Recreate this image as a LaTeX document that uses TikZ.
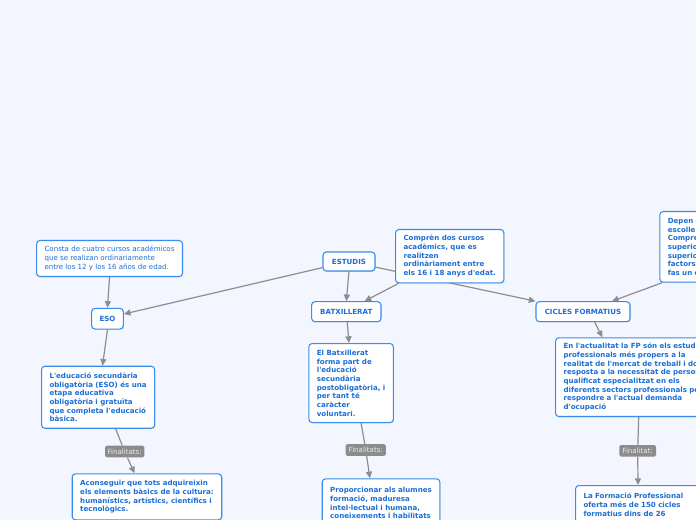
\documentclass[tikz,border=0pt]{standalone}
\usepackage{fontspec}
\setmainfont{DejaVu Sans}[Ligatures=TeXOff]
\usetikzlibrary{arrows.meta,shadows}
\definecolor{mapbg}{HTML}{F3F6FE}
\definecolor{mapblue}{HTML}{3A8DEB}
\definecolor{mapink}{HTML}{1B6ED6}
\definecolor{maplinegray}{HTML}{8E8E8E}
\definecolor{maplabelgray}{HTML}{8C8C8C}
\newcommand\mapfont{\fontsize{5.3pt}{6.5pt}\selectfont}
\pgfdeclarelayer{mapback}
\pgfdeclarelayer{maplines}
\pgfsetlayers{mapback,maplines,main}
\tikzset{
  mnote/.style   = {rectangle, draw=mapblue, line width=0.8pt, fill=white, rounded corners=2.5pt,
                    align=left, inner xsep=6pt, inner ysep=2pt, text=mapink,
                    font=\mapfont\bfseries,
                    drop shadow={shadow xshift=0.5pt, shadow yshift=-0.6pt, opacity=0.25}},
  mplain/.style  = {mnote, font=\mapfont},
  mtopic/.style  = {mnote, align=center, inner xsep=2pt},
  mlabel/.style  = {rectangle, fill=maplabelgray, rounded corners=1.2pt, text=white!92!black,
                    font=\mapfont, inner sep=1pt, minimum height=8.7pt},
  mline/.style   = {draw=maplinegray, line width=0.9pt},
  marrow/.style  = {mline, -{Triangle[length=5pt,width=4.6pt]}},
}
\begin{document}
\begin{tikzpicture}[x=0.75pt,y=-0.75pt]
\useasboundingbox (0,0) rectangle (696,520);
\clip (0,0) rectangle (696,520);
\begin{pgfonlayer}{mapback}
  \fill[mapbg] (0,0) rectangle (696,520);
\end{pgfonlayer}

% top row
\node[mtopic, minimum width=39pt, minimum height=14.25pt] (estudis) at (349,261.5) {ESTUDIS};
\node[mplain, anchor=north west, minimum height=27pt] (consta) at (36,240)
  {Consta de cuatro cursos académicos\\que se realizan ordinariamente\\entre los 12 y los 16 años de edad.};
\node[mnote, anchor=north west, minimum height=40pt] (compren) at (395,229)
  {Comprèn dos cursos\\acadèmics, que es\\realitzen\\ordinàriament entre\\els 16 i 18 anys d'edat.};
\node[mnote, anchor=north west, text width=63pt, minimum height=53pt] (depen) at (659.3,211)
  {Depen d\\escollei\\Compre\\superio\\superio\\factors,\\fas un e};

% branches
\node[mtopic, minimum width=23.7pt, minimum height=15.5pt] (eso) at (107.5,318.7) {ESO};
\node[mtopic, minimum width=52pt, minimum height=15pt] (batx) at (346.3,311.7) {BATXILLERAT};
\node[mtopic, minimum width=70.5pt, minimum height=15pt] (cicles) at (583,311.7) {CICLES FORMATIUS};

% descriptions
\node[mnote, anchor=north west, minimum height=46.5pt] (educacio) at (41,365.7)
  {L'educació secundària\\obligatòria (ESO) és una\\etapa educativa\\obligatòria i gratuïta\\que completa l'educació\\bàsica.};
\node[mnote, anchor=north west, minimum height=59.25pt] (batxdesc) at (308.3,343)
  {El Batxillerat\\forma part de\\l'educació\\secundària\\postobligatòria, i\\per tant té\\caràcter\\voluntari.};
\node[mnote, anchor=north west, text width=118pt, minimum height=59pt] (actualitat) at (555,337.3)
  {En l'actualitat la FP són els estudi\\professionals més propers a la\\realitat de l'mercat de treball i do\\resposta a la necessitat de person\\qualificat especialitzat en els\\diferents sectors professionals pe\\respondre a l'actual demanda\\d'ocupació};

% finalitats
\node[mlabel, minimum width=29.5pt] (fin1) at (124.7,451.5) {Finalitats:};
\node[mlabel, minimum width=30.2pt] (fin2) at (365.8,450) {Finalitats:};
\node[mlabel, minimum width=27.5pt] (fin3) at (637.7,450.8) {Finalitat:};

\node[mnote, anchor=north west, minimum height=34.5pt] (aconseguir) at (71.7,473.3)
  {Aconseguir que tots adquireixin\\els elements bàsics de la cultura:\\humanístics, artístics, científics i\\tecnològics.};
\node[mnote, anchor=north west, minimum height=36.75pt] (proporcionar) at (321.7,478.3)
  {Proporcionar als alumnes\\formació, maduresa\\intel·lectual i humana,\\coneixements i habilitats};
\node[mnote, anchor=north west, text width=118pt, minimum height=28.6pt] (formacio) at (575,485)
  {La Formació Professional\\oferta més de 150 cicles\\formatius dins de 26};

% connectors
\begin{pgfonlayer}{maplines}
  \draw[marrow] (estudis.193) -- (eso.16);
  \draw[marrow] (estudis.south) -- (batx.north);
  \draw[marrow] (estudis.-12) -- (cicles.north west);
  \draw[marrow] (compren.208) -- (batx.30);
  \draw[marrow] (consta.south) -- (eso.north);
  \draw[marrow] (depen.217) -- (cicles.20);
  \draw[marrow] (eso.south) -- (educacio.82);
  \draw[marrow] (batx.-85) -- (batxdesc.93);
  \draw[marrow] (cicles.-42) -- (actualitat.135);
  \draw[mline] (educacio.-61) -- (fin1);
  \draw[marrow] (fin1) -- (aconseguir.118);
  \draw[mline] (batxdesc.-76) -- (fin2);
  \draw[marrow] (fin2) -- (proporcionar.114);
  \draw[mline] (actualitat.-95) -- (fin3);
  \draw[marrow] (fin3) -- (formacio.141);
\end{pgfonlayer}
\end{tikzpicture}
\end{document}
